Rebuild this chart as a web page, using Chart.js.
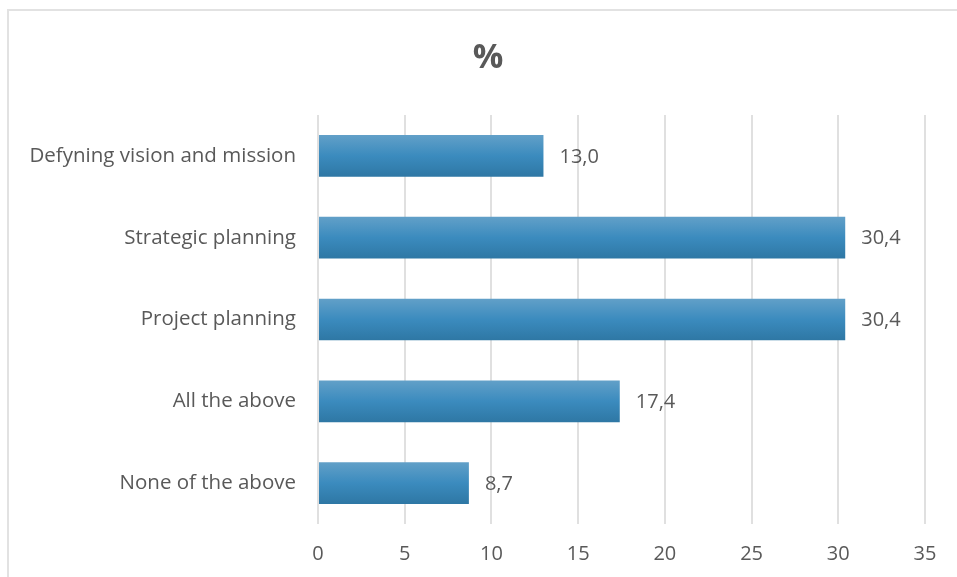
<!DOCTYPE html>
<html lang="en">
<head>
  <meta charset="UTF-8" />
  <title>%</title>
  <script src="https://cdn.jsdelivr.net/npm/chart.js"></script>
  <style>
    html, body { margin: 0; padding: 0; background: #fff; overflow: hidden; }
    #marco { position: absolute; left: 7px; top: 9px; width: 980px; height: 600px; border: 2px solid #e2e2e2; }
    #wrap { position: absolute; left: 0; top: 0; width: 957px; height: 577px; }
  </style>
</head>
<body>
  <div id="marco"></div>
  <div id="wrap"><canvas id="grafico"></canvas></div>
  <script>
    const titulo = "%";
    const categorias = ["Defyning vision and mission", "Strategic planning", "Project planning", "All the above", "None of the above"];
    const valores = [13.0, 30.4, 30.4, 17.4, 8.7];
    const ejeMin = 0;
    const ejeMax = 35;
    const ejePaso = 5;

    const gris = "#595959";
    const fuente = "'Open Sans', sans-serif";

    // degradado vertical dentro de cada barra
    function colorBarra(ctx) {
      const chart = ctx.chart;
      const y = chart.scales.y;
      if (!chart.chartArea || !y || ctx.dataIndex === undefined) return "#3b8bbe";
      const centro = y.getPixelForValue(ctx.dataIndex);
      const g = chart.ctx.createLinearGradient(0, centro - 21, 0, centro + 21);
      g.addColorStop(0, "#62a0c8");
      g.addColorStop(0.5, "#3b8bbe");
      g.addColorStop(1, "#2e77a4");
      return g;
    }

    // título centrado sobre todo el marco, no sólo sobre el área del gráfico
    const tituloMarco = {
      id: "tituloMarco",
      afterDraw(chart) {
        const c = chart.ctx;
        c.save();
        c.font = "bold 34px " + fuente;
        c.fillStyle = gris;
        c.textAlign = "center";
        c.textBaseline = "middle";
        c.fillText(titulo, 488, 58);
        c.restore();
      }
    };

    // etiquetas de valor al final de cada barra, con coma decimal
    const etiquetas = {
      id: "etiquetas",
      afterDatasetsDraw(chart) {
        const c = chart.ctx;
        const meta = chart.getDatasetMeta(0);
        c.save();
        c.font = "20px " + fuente;
        c.fillStyle = gris;
        c.textBaseline = "middle";
        c.textAlign = "left";
        meta.data.forEach((barra, i) => {
          c.fillText(valores[i].toFixed(1).replace(".", ","), barra.x + 16, barra.y + 1);
        });
        c.restore();
      }
    };

    new Chart(document.getElementById("grafico"), {
      type: "bar",
      data: {
        labels: categorias,
        datasets: [{
          data: valores,
          backgroundColor: colorBarra,
          borderWidth: 0,
          barPercentage: 0.51,
          categoryPercentage: 1
        }]
      },
      options: {
        indexAxis: "y",
        responsive: true,
        maintainAspectRatio: false,
        animation: false,
        layout: { padding: { left: 0, right: 32, top: 115, bottom: 0 } },
        plugins: {
          legend: { display: false },
          tooltip: { enabled: false },
          title: { display: false }
        },
        scales: {
          x: {
            min: ejeMin,
            max: ejeMax,
            ticks: { stepSize: ejePaso, color: gris, padding: 18, font: { family: fuente, size: 20 } },
            grid: { color: "#e0e0e0", lineWidth: 2, drawTicks: false },
            border: { display: false },
            afterFit(scale) { scale.height = 53; }
          },
          y: {
            ticks: { color: gris, padding: 22, font: { family: fuente, size: 20.5 } },
            grid: { display: false, drawTicks: false },
            border: { display: false },
            afterFit(scale) { scale.width = 318; }
          }
        }
      },
      plugins: [etiquetas, tituloMarco]
    });
  </script>
</body>
</html>
